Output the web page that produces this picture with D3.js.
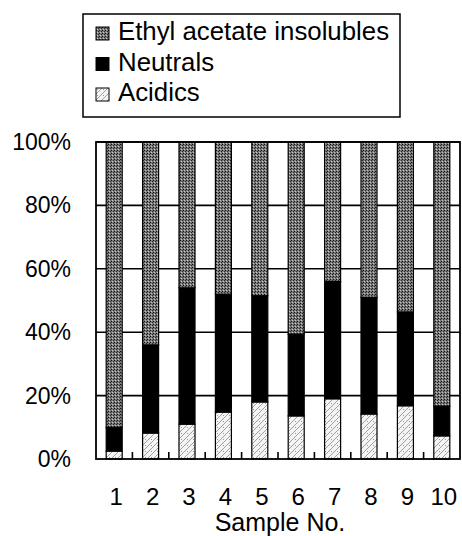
<!DOCTYPE html>
<html>
<head>
<meta charset="utf-8">
<script src="https://cdn.jsdelivr.net/npm/d3@7"></script>
<style>
  html, body { margin: 0; padding: 0; background: #fff; }
  svg { display: block; }
  text { font-family: "Liberation Sans", Arial, Helvetica, sans-serif; fill: #000; }
</style>
</head>
<body>
<svg id="chart" width="462" height="536"></svg>
<script>
// ---- data ----
const categories = ["1", "2", "3", "4", "5", "6", "7", "8", "9", "10"];
const acidics   = [2.5, 8.2, 11.0, 14.8, 18.0, 13.6, 19.0, 14.2, 16.8, 7.3];
const neutrals  = [7.5, 27.8, 43.0, 37.2, 33.5, 25.8, 37.0, 36.8, 29.6, 9.4];
const insolubles = [90.0, 64.0, 46.0, 48.0, 48.5, 60.6, 44.0, 49.0, 53.6, 83.3];
const seriesNames = ["Ethyl acetate insolubles", "Neutrals", "Acidics"];
const yTicks = [0, 20, 40, 60, 80, 100];
const xTitle = "Sample No.";

// ---- layout ----
const svg = d3.select("#chart");
const plot = { left: 96, right: 460, top: 142, bottom: 459 };

// patterns
const defs = svg.append("defs");
const pIns = defs.append("pattern").attr("id", "pIns").attr("patternUnits", "userSpaceOnUse")
  .attr("width", 3).attr("height", 3);
pIns.append("rect").attr("width", 3).attr("height", 3).attr("fill", "#7a7a7a");
pIns.append("rect").attr("x", 0).attr("y", 0).attr("width", 1).attr("height", 1).attr("fill", "#111");
pIns.append("rect").attr("x", 2).attr("y", 1).attr("width", 1).attr("height", 1).attr("fill", "#2a2a2a");
pIns.append("rect").attr("x", 1).attr("y", 2).attr("width", 1).attr("height", 1).attr("fill", "#c8c8c8");

const pAc = defs.append("pattern").attr("id", "pAc").attr("patternUnits", "userSpaceOnUse")
  .attr("width", 6).attr("height", 6);
pAc.append("rect").attr("width", 6).attr("height", 6).attr("fill", "#f4f4f4");
pAc.append("path").attr("d", "M0,6 L6,0 M-1,1 L1,-1 M5,7 L7,5").attr("stroke", "#8a8a8a").attr("stroke-width", 0.8);
pAc.append("rect").attr("x", 1).attr("y", 1).attr("width", 1).attr("height", 1).attr("fill", "#999");

const fills = { "Ethyl acetate insolubles": "url(#pIns)", "Neutrals": "#000", "Acidics": "url(#pAc)" };

// scales
const x = d3.scaleBand().domain(categories).range([plot.left, plot.right])
  .paddingInner(0.56).paddingOuter(0.28);
const y = d3.scaleLinear().domain([0, 100]).range([plot.bottom, plot.top]);

// gridlines
svg.append("g").selectAll("line").data(yTicks.filter(d => d > 0)).join("line")
  .attr("x1", plot.left).attr("x2", plot.right)
  .attr("y1", d => y(d)).attr("y2", d => y(d))
  .attr("stroke", "#000").attr("stroke-width", 1.6);

// stacked data
const rows = categories.map((c, i) => ({
  cat: c,
  "Acidics": acidics[i],
  "Neutrals": neutrals[i],
  "Ethyl acetate insolubles": insolubles[i]
}));
const stack = d3.stack().keys(["Acidics", "Neutrals", "Ethyl acetate insolubles"]);
const layers = stack(rows);

svg.append("g").selectAll("g").data(layers).join("g")
  .attr("fill", d => fills[d.key])
  .selectAll("rect").data(d => d).join("rect")
  .attr("x", d => x(d.data.cat))
  .attr("width", x.bandwidth())
  .attr("y", d => y(Math.min(d[1], 100)))
  .attr("height", d => y(d[0]) - y(Math.min(d[1], 100)))
  .attr("stroke", "#000").attr("stroke-width", 1.2);

// plot frame
svg.append("rect").attr("x", plot.left).attr("y", plot.top)
  .attr("width", plot.right - plot.left).attr("height", plot.bottom - plot.top)
  .attr("fill", "none").attr("stroke", "#000").attr("stroke-width", 1.8);

// category separator ticks at bottom (inside)
const step = x.step();
const sepX = categories.slice(0, -1).map((c, i) => x(c) + x.bandwidth() + (step - x.bandwidth()) / 2);
svg.append("g").selectAll("line").data(sepX).join("line")
  .attr("x1", d => d).attr("x2", d => d)
  .attr("y1", plot.bottom).attr("y2", plot.bottom - 7)
  .attr("stroke", "#000").attr("stroke-width", 1.6);

// y axis labels
const yAxis = d3.axisLeft(y).tickValues(yTicks).tickFormat(d => d + "%").tickSize(0).tickPadding(0);
const gy = svg.append("g").attr("transform", "translate(71,0)").call(yAxis);
gy.select(".domain").remove();
gy.selectAll("text").style("font-size", "23px").attr("font-family", null).attr("dy", "0.33em");

// x axis labels
const xAxis = d3.axisBottom(x).tickSize(0).tickPadding(0);
const gx = svg.append("g").attr("transform", "translate(2,488)").call(xAxis);
gx.select(".domain").remove();
gx.selectAll("text").style("font-size", "24px").attr("font-family", null).attr("dy", "0.71em");

svg.append("text").attr("x", 280).attr("y", 531).attr("text-anchor", "middle")
  .style("font-size", "25px").text(xTitle);

// legend
svg.append("rect").attr("x", 83).attr("y", 14).attr("width", 317).attr("height", 103)
  .attr("fill", "#fff").attr("stroke", "#000").attr("stroke-width", 1.5);
const lg = svg.append("g").selectAll("g").data(seriesNames).join("g")
  .attr("transform", (d, i) => `translate(96,${27 + i * 30.5})`);
lg.append("rect").attr("width", 13).attr("height", 13)
  .attr("fill", d => fills[d]).attr("stroke", "#000").attr("stroke-width", 1);
lg.append("text").attr("x", 22).attr("y", 13).style("font-size", "25.8px").text(d => d);
</script>
</body>
</html>
